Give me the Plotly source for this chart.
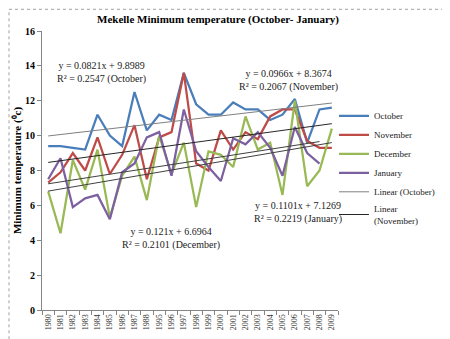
import plotly.graph_objects as go

years = ['1980','1981','1982','1983','1984','1985','1986','1987','1988','1995','1996','1997',
         '1998','1999','2000','2001','2002','2003','2004','2005','2006','2007','2008','2009']

october = [9.4, 9.4, 9.3, 9.2, 11.2, 10.0, 9.4, 12.5, 10.3, 11.2, 10.9, 13.6,
           11.8, 11.2, 11.2, 11.9, 11.5, 11.5, 10.9, 11.2, 12.1, 9.6, 11.5, 11.6]
november = [7.3, 7.9, 9.0, 8.0, 9.9, 7.8, 8.9, 10.6, 7.5, 9.9, 10.2, 13.6,
            8.4, 8.0, 10.3, 9.2, 10.2, 9.8, 11.1, 11.5, 11.5, 9.7, 9.3, 9.3]
december = [6.8, 4.4, 8.6, 6.9, 9.2, 5.3, 7.7, 8.8, 6.3, 10.0, 7.8, 9.6,
            5.9, 9.1, 8.9, 8.2, 11.1, 9.2, 9.6, 6.6, 12.0, 7.1, 8.0, 10.4]
january = [7.5, 8.7, 5.9, 6.4, 6.6, 5.2, 7.9, 8.4, 9.9, 10.2, 7.7, 11.5,
           9.1, 8.2, 7.4, 9.85, 9.5, 10.2, 9.3, 7.7, 10.5, 9.0, 8.4, None]

# Trendline coefficients as printed on the chart (x = category index 1..n)
trend_slope = {'October': 0.0821, 'November': 0.0966, 'December': 0.121, 'January': 0.1101}
trend_icept = {'October': 9.8989, 'November': 8.3674, 'December': 6.6964, 'January': 7.1269}
trend_r2 = {'October': 0.2547, 'November': 0.2067, 'December': 0.2101, 'January': 0.2219}

series = [('October', october, '#4A7EBB'),
          ('November', november, '#BE4B48'),
          ('December', december, '#98B954'),
          ('January', january, '#7D60A0')]

SERIF = 'Liberation Serif'
fig = go.Figure()

for name, vals, col in series:
    fig.add_trace(go.Scatter(x=years, y=vals, mode='lines', name=name,
                             line=dict(color=col, width=2.25), legendgroup=name,
                             connectgaps=False))

trend_style = {'October': ('#7F7F7F', True, 'Linear (October)'),
               'November': ('#262626', True, 'Linear<br>(November)'),
               'December': ('#404040', False, 'Linear (December)'),
               'January': ('#404040', False, 'Linear (January)')}

for name, vals, col in series:
    n = len([v for v in vals if v is not None])
    xs = years[:n]
    ys = [trend_slope[name] * (i + 1) + trend_icept[name] for i in range(n)]
    c, show, lab = trend_style[name]
    fig.add_trace(go.Scatter(x=xs, y=ys, mode='lines', name=lab, showlegend=show,
                             legendgroup='t' + name, line=dict(color=c, width=1)))

# plot area in pixels
L, R, T, B = 34, 330, 22.7, 301.7
W, H = R - L, B - T

def px(x):
    return (x - L) / W

def py(y):
    return (B - y) / H

ann_font = dict(family=SERIF, size=10, color='#222222')
labels = [
    ('October', 93, 56),
    ('November', 280, 64),
    ('December', 163, 222),
    ('January', 290, 196),
]
annotations = []
for name, cx, cy in labels:
    txt = ('y = %gx + %g<br>R² = %g (%s)'
           % (trend_slope[name], trend_icept[name], trend_r2[name], name))
    annotations.append(dict(text=txt, x=px(cx), y=py(cy - 6), xref='paper', yref='paper',
                            xanchor='center', yanchor='top', showarrow=False,
                            font=ann_font, align='center'))

fig.update_layout(
    width=450, height=339,
    margin=dict(l=L, r=450 - R, t=T, b=339 - B, pad=0, autoexpand=False),
    paper_bgcolor='white', plot_bgcolor='white',
    title=dict(text='<b>Mekelle Minimum temperature (October- January)</b>',
               x=210 / 450, xref='container', xanchor='center',
               y=1 - 11 / 339, yref='container', yanchor='middle',
               font=dict(family=SERIF, size=11, color='black')),
    xaxis=dict(type='category', range=[-0.5, 23.5], showline=True, linecolor='#868686',
               linewidth=1, ticks='outside', tickson='boundaries', ticklen=4,
               tickcolor='#868686', tickangle=-90, showgrid=False, automargin=False,
               tickfont=dict(family=SERIF, size=8, color='#333333')),
    yaxis=dict(range=[0, 16], dtick=2, showline=True, linecolor='#868686', linewidth=1,
               ticks='outside', ticklen=4, tickcolor='#868686', showgrid=False,
               zeroline=False, automargin=False,
               tickfont=dict(family=SERIF, size=10, color='black', weight='bold'),
               title=dict(text='<b>Minimum temperature (⁰c)</b>', standoff=1,
                          font=dict(family=SERIF, size=11, color='black'))),
    legend=dict(x=px(326), xanchor='left', y=py(93), yanchor='top',
                font=dict(family=SERIF, size=9, color='#222222'),
                bgcolor='rgba(0,0,0,0)', tracegroupgap=0, traceorder='grouped',
                itemwidth=30),
    annotations=annotations,
    shapes=[dict(type='rect', xref='paper', yref='paper',
                 x0=px(1), x1=px(449), y0=py(338), y1=py(1),
                 line=dict(color='#A0A0A0', width=1, dash='dot'))],
    showlegend=True,
)

fig.write_html('out.html')
